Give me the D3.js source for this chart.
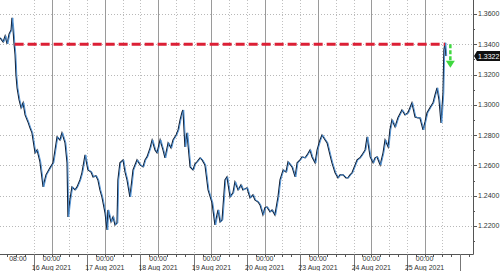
<!DOCTYPE html>
<html lang="en">
<head>
    <meta charset="UTF-8">
    <title>GBPUSD intraday</title>
    <script src="https://d3js.org/d3.v7.min.js"></script>
    <style>
        body { margin: 0; background: #fff; }
    </style>
</head>
<body>
    <script>
        const width = 500, height = 271;
        const plotRight = 473, plotBottom = 254;

        // trading hours since 16 Aug 2021 00:00 (weekend removed)
        const hours = [
            -23.2, -21.8, -20.9, -20.0, -19.1, -18.2, -17.8, -17.3, -16.9, -16.4, -16.0, -15.5,
            -14.6, -13.7, -12.8, -11.9, -10.6, -9.7, -8.8, -7.4, -6.5, -5.2, -3.8, -2.5, -0.7,
            0.7, 1.6, 2.5, 3.8, 4.7, 6.1, 7.0, 7.4, 8.3, 9.2, 10.6, 11.5, 12.8, 13.7, 15.1, 16.4,
            17.8, 18.7, 20.0, 20.9, 21.8, 22.7, 24.1, 25.0, 25.4, 26.8, 27.7, 28.6, 29.5, 29.9,
            30.8, 32.2, 33.1, 34.0, 35.3, 36.2, 36.7, 38.5, 39.9, 41.2, 42.1, 43.0, 44.4, 45.3,
            46.6, 47.5, 48.9, 50.2, 51.1, 52.5, 53.8, 54.7, 56.1, 57.0, 57.9, 58.8, 59.2, 60.1,
            61.0, 61.9, 62.4, 63.7, 64.6, 65.5, 66.9, 67.8, 69.1, 70.5, 72.3, 73.6, 74.5, 75.0,
            75.9, 76.8, 78.1, 79.0, 80.4, 81.7, 82.6, 84.0, 85.3, 86.2, 88.0, 89.4, 90.7, 91.6,
            93.0, 93.9, 95.2, 96.1, 97.0, 98.4, 99.3, 100.6, 102.0, 102.9, 104.3, 105.6, 106.5,
            108.3, 109.7, 110.6, 111.9, 112.8, 114.2, 115.1, 116.4, 117.3, 118.7, 119.6, 120.9,
            121.8, 123.2, 124.1, 125.4, 126.3, 127.7, 129.0, 129.9, 131.3, 132.6, 133.5, 134.4,
            135.3, 136.7, 137.6, 138.9, 139.8, 141.2, 142.1, 143.5, 144.8, 145.7, 146.6, 148.0,
            149.3, 150.2, 151.6, 152.4, 153.3, 154.7, 156.0, 157.8, 159.2, 160.5, 161.4, 162.3,
            163.7, 165.0, 165.9, 167.3, 168.2, 169.1, 170.4, 171.8, 172.7, 173.6, 174.5, 175.4,
            175.8, 176.3, 176.7, 177.2, 177.6
        ];
        const prices = [
            1.3442, 1.3415, 1.3455, 1.3402, 1.3468, 1.3494, 1.3574, 1.3494, 1.3409, 1.3329, 1.3197, 1.3112,
            1.3032, 1.2980, 1.3013, 1.2933, 1.2887, 1.2848, 1.2815, 1.2683, 1.2702, 1.2623, 1.2458, 1.2537, 1.2584,
            1.2617, 1.2702, 1.2788, 1.2768, 1.2815, 1.2749, 1.2617, 1.2260, 1.2372, 1.2458, 1.2438, 1.2458, 1.2504, 1.2551, 1.2669, 1.2570,
            1.2557, 1.2524, 1.2531, 1.2504, 1.2438, 1.2392, 1.2287, 1.2174, 1.2306, 1.2227, 1.2260, 1.2207, 1.2221, 1.2504,
            1.2617, 1.2636, 1.2557, 1.2504, 1.2392, 1.2504, 1.2570, 1.2636, 1.2603, 1.2590, 1.2636, 1.2656, 1.2716, 1.2768,
            1.2702, 1.2683, 1.2768, 1.2702, 1.2650, 1.2749, 1.2716, 1.2768, 1.2801, 1.2834, 1.2900, 1.2953, 1.2966, 1.2722,
            1.2815, 1.2669, 1.2590, 1.2570, 1.2610, 1.2623, 1.2650, 1.2636, 1.2603, 1.2438, 1.2353, 1.2207, 1.2273, 1.2306,
            1.2227, 1.2240, 1.2504, 1.2524, 1.2392, 1.2419, 1.2491, 1.2438, 1.2471, 1.2438, 1.2452, 1.2386, 1.2405, 1.2372,
            1.2359, 1.2339, 1.2273, 1.2320, 1.2326, 1.2293, 1.2306, 1.2273, 1.2392, 1.2504, 1.2570, 1.2557, 1.2623,
            1.2590, 1.2524, 1.2617, 1.2636, 1.2656, 1.2650, 1.2669, 1.2702, 1.2656, 1.2617, 1.2702, 1.2768,
            1.2801, 1.2768, 1.2749, 1.2669, 1.2617, 1.2551, 1.2518, 1.2537, 1.2537, 1.2518, 1.2518, 1.2537,
            1.2551, 1.2603, 1.2636, 1.2650, 1.2669, 1.2702, 1.2788, 1.2656, 1.2617, 1.2650, 1.2656, 1.2603,
            1.2683, 1.2768, 1.2722, 1.2834, 1.2900, 1.2854, 1.2914, 1.2966, 1.2933, 1.2947, 1.2980, 1.3013,
            1.2920, 1.2914, 1.2914, 1.2834, 1.2887, 1.2947, 1.2980, 1.3013, 1.3065, 1.3112, 1.3032, 1.2881,
            1.2966, 1.3079, 1.3362, 1.3409, 1.3322
        ];

        // axis labels
        const dayHours = [0, 24, 48, 72, 96, 120, 144, 168];
        const dayLabels = ["16 Aug 2021", "17 Aug 2021", "18 Aug 2021", "19 Aug 2021",
                           "20 Aug 2021", "23 Aug 2021", "24 Aug 2021", "25 Aug 2021"];
        const yTicks = [1.22, 1.24, 1.26, 1.28, 1.30, 1.32, 1.34, 1.36];
        const yMinor = [1.21, 1.23, 1.25, 1.27, 1.29, 1.31, 1.33, 1.35];

        // annotations
        const levelPrice = 1.34, levelFrom = -16.6, levelTo = 177.2;
        const arrowHour = 179.6, arrowFrom = 1.34, arrowTo = 1.3245;
        const lastPrice = prices[prices.length - 1];

        const svg = d3.select("body")
            .append("svg")
            .attr("width", width)
            .attr("height", height)
            .style("font-family", "'Liberation Sans', Arial, sans-serif");

        const x = d3.scaleLinear().domain([-23.2, 189.8]).range([0, plotRight]);
        const y = d3.scaleLinear().domain([1.2015, 1.3692]).range([plotBottom, 0]);

        // horizontal grid
        svg.append("g").selectAll("line")
            .data(yTicks)
            .enter().append("line")
            .attr("x1", 0).attr("x2", plotRight)
            .attr("y1", d => Math.round(y(d)) + 0.5).attr("y2", d => Math.round(y(d)) + 0.5)
            .attr("stroke", "#b8b8b8")
            .attr("stroke-dasharray", "1,2");

        // vertical grid: solid at midnight, dotted every 8h
        const gridHours = d3.range(-8, 177, 8);
        svg.append("g").selectAll("line")
            .data(gridHours)
            .enter().append("line")
            .attr("x1", d => Math.round(x(d)) + 0.5).attr("x2", d => Math.round(x(d)) + 0.5)
            .attr("y1", 0).attr("y2", plotBottom)
            .attr("stroke", d => d % 24 === 0 ? "#9a9a9a" : "#c0c0c0")
            .attr("stroke-dasharray", d => d % 24 === 0 ? null : "1,2");

        // price line: dark under-stroke plus blue line
        const line = d3.line()
            .x((d, i) => x(hours[i]))
            .y(d => y(d));

        svg.append("path")
            .datum(prices)
            .attr("d", line)
            .attr("fill", "none")
            .attr("stroke", "#101c30")
            .attr("stroke-width", 1.2);

        svg.append("path")
            .datum(prices)
            .attr("d", line)
            .attr("transform", "translate(0.8,0)")
            .attr("fill", "none")
            .attr("stroke", "#4a8fd4")
            .attr("stroke-width", 0.9);

        // red resistance line
        svg.append("line")
            .attr("x1", x(levelFrom)).attr("x2", x(levelTo))
            .attr("y1", y(levelPrice)).attr("y2", y(levelPrice))
            .attr("stroke", "#dc1f35")
            .attr("stroke-width", 3)
            .attr("stroke-dasharray", "9,4");

        // green arrow
        svg.append("line")
            .attr("x1", x(arrowHour)).attr("x2", x(arrowHour))
            .attr("y1", y(arrowFrom)).attr("y2", y(arrowTo) - 6)
            .attr("stroke", "#3fd83f")
            .attr("stroke-width", 2.5)
            .attr("stroke-dasharray", "4,2");
        svg.append("path")
            .attr("d", `M${x(arrowHour) - 4.5},${y(arrowTo) - 7} L${x(arrowHour) + 4.5},${y(arrowTo) - 7} L${x(arrowHour)},${y(arrowTo)} Z`)
            .attr("fill", "#3fd83f");

        // axes lines
        svg.append("line")
            .attr("x1", plotRight + 0.5).attr("x2", plotRight + 0.5)
            .attr("y1", 0).attr("y2", plotBottom + 0.5)
            .attr("stroke", "#555");
        svg.append("line")
            .attr("x1", 0).attr("x2", plotRight + 0.5)
            .attr("y1", plotBottom + 0.5).attr("y2", plotBottom + 0.5)
            .attr("stroke", "#555");

        // right axis ticks and labels
        svg.append("g").selectAll("line")
            .data(yTicks)
            .enter().append("line")
            .attr("x1", plotRight).attr("x2", plotRight + 4)
            .attr("y1", d => Math.round(y(d)) + 0.5).attr("y2", d => Math.round(y(d)) + 0.5)
            .attr("stroke", "#555");
        svg.append("g").selectAll("line")
            .data(yMinor)
            .enter().append("line")
            .attr("x1", plotRight).attr("x2", plotRight + 2)
            .attr("y1", d => Math.round(y(d)) + 0.5).attr("y2", d => Math.round(y(d)) + 0.5)
            .attr("stroke", "#555");
        svg.append("g").selectAll("text")
            .data(yTicks)
            .enter().append("text")
            .attr("x", plotRight + 5)
            .attr("y", d => y(d))
            .attr("dominant-baseline", "central")
            .attr("font-size", "7px")
            .attr("fill", "#333")
            .text(d => d.toFixed(4));

        // last price box
        const ly = y(lastPrice);
        svg.append("path")
            .attr("d", `M${plotRight + 1},${ly} L${plotRight + 4},${ly - 5} L${width},${ly - 5} L${width},${ly + 5} L${plotRight + 4},${ly + 5} Z`)
            .attr("fill", "#111");
        svg.append("text")
            .attr("x", plotRight + 5)
            .attr("y", ly)
            .attr("dominant-baseline", "central")
            .attr("font-size", "7px")
            .attr("fill", "#fff")
            .text(lastPrice.toFixed(4));

        // bottom axis: minor ticks every 4h, separators at 16:00
        svg.append("g").selectAll("line")
            .data(d3.range(-20, 189, 4))
            .enter().append("line")
            .attr("x1", d => Math.round(x(d)) + 0.5).attr("x2", d => Math.round(x(d)) + 0.5)
            .attr("y1", plotBottom).attr("y2", plotBottom + 3)
            .attr("stroke", "#555");
        svg.append("g").selectAll("line")
            .data(d3.range(-8, 189, 24))
            .enter().append("line")
            .attr("x1", d => Math.round(x(d)) + 0.5).attr("x2", d => Math.round(x(d)) + 0.5)
            .attr("y1", plotBottom).attr("y2", height)
            .attr("stroke", "#777");

        svg.append("text")
            .attr("x", x(-16) + 2)
            .attr("y", plotBottom + 7)
            .attr("text-anchor", "middle")
            .attr("font-size", "7px")
            .attr("fill", "#333")
            .text("08:00");

        const days = svg.append("g").selectAll("g")
            .data(dayHours)
            .enter().append("g");
        days.append("text")
            .attr("x", d => x(d))
            .attr("y", plotBottom + 7)
            .attr("text-anchor", "middle")
            .attr("font-size", "7px")
            .attr("fill", "#333")
            .text("00:00");
        days.append("text")
            .attr("x", d => x(d))
            .attr("y", plotBottom + 15.5)
            .attr("text-anchor", "middle")
            .attr("font-size", "7px")
            .attr("fill", "#333")
            .text((d, i) => dayLabels[i]);
    </script>
</body>
</html>
